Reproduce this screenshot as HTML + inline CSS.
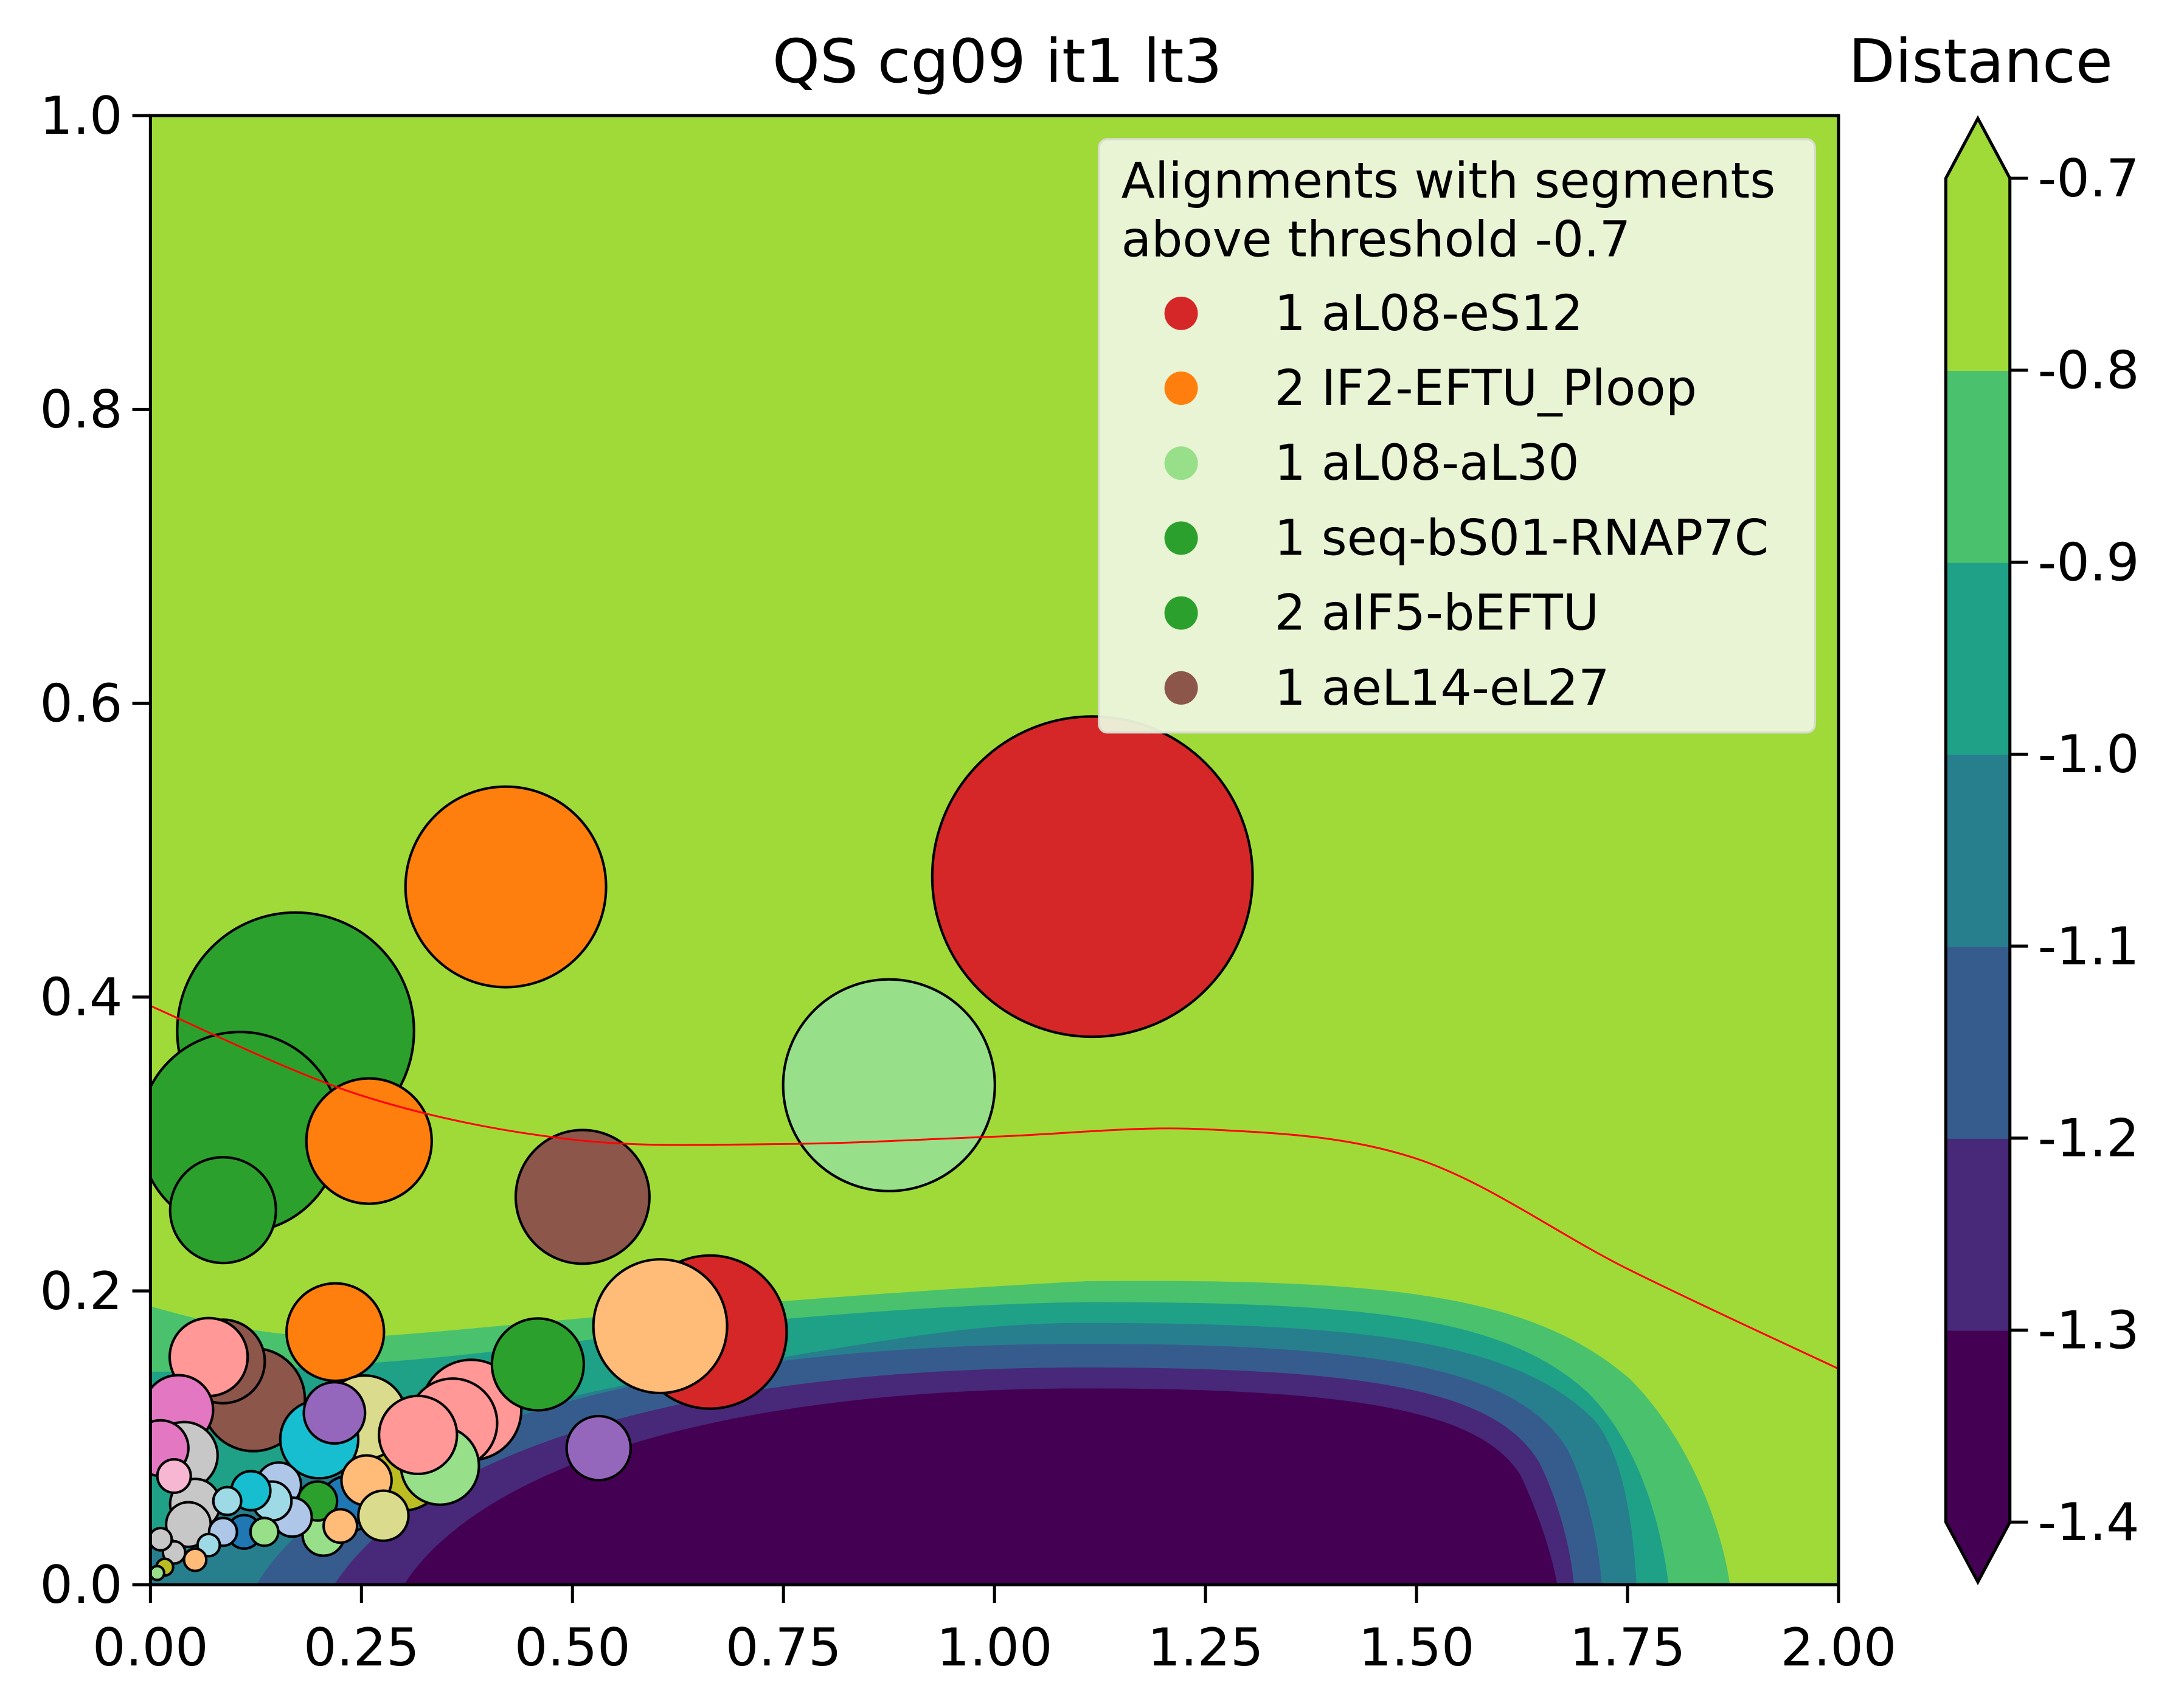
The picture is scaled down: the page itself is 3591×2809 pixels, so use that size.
<!DOCTYPE html>
<html><head><meta charset="utf-8"><style>
html,body{margin:0;padding:0;background:#fff}
svg{display:block}
text{font-family:"DejaVu Sans","Liberation Sans",sans-serif;fill:#000}
</style></head><body>
<svg id="fig" width="3591" height="2809" viewBox="0 0 1568 1226.5" preserveAspectRatio="none">
<rect x="0" y="0" width="1568" height="1226.5" fill="#fff"/>
<defs><clipPath id="ax"><rect x="108" y="83" width="1212" height="1055"/></clipPath></defs>
<g clip-path="url(#ax)">
<rect x="108" y="83" width="1212" height="1055" fill="#a0da39"/>
<path d="M108,938 C150,950 200,962 260,960 S500,935 780,920 C1000,918 1100,930 1170,990 C1210,1030 1235,1090 1242,1138 L108,1138 Z" fill="#4ac16d"/>
<path d="M108,985 C200,985 300,978 400,965 S650,937 780,935 C980,935 1080,945 1140,1000 C1175,1035 1192,1090 1198,1138 L108,1138 Z" fill="#1fa187"/>
<path d="M108,1110 C200,1060 350,1010 500,985 S700,950 780,950 C990,950 1090,965 1145,1020 C1165,1045 1172,1090 1175,1138 L108,1138 Z" fill="#277f8e"/>
<path d="M184,1138 C230,1060 400,965 780,965 C1000,965 1090,985 1125,1040 C1140,1070 1148,1110 1150,1138 Z" fill="#365c8d"/>
<path d="M240,1138 C290,1060 450,982 780,982 C990,982 1075,1000 1105,1050 C1120,1080 1128,1115 1130,1138 Z" fill="#482878"/>
<path d="M290,1138 C340,1060 500,997 780,997 C980,997 1065,1015 1092,1060 C1106,1090 1115,1120 1118,1138 Z" fill="#440154"/>
<g id="bubbles"></g>
<path id="fitline" fill="none" stroke="#ff0000" stroke-width="1.3"/>
</g>
<rect x="108" y="83" width="1212" height="1055" fill="none" stroke="#000" stroke-width="2.2"/>
<g id="xticks"></g>
<g id="yticks"></g>
<text x="716" y="59" font-size="43.4" text-anchor="middle">QS cg09 it1 lt3</text>

<g>
<rect x="789" y="100" width="514" height="426" rx="6" fill="#ecf6dc" fill-opacity="0.95" stroke="#d8dcd0" stroke-width="1.5"/>
<text x="805" y="142" font-size="35.3">Alignments with segments</text>
<text x="805" y="184" font-size="35.3">above threshold -0.7</text>
<g id="legendEntries"></g>
</g>

<g>
<g id="cbar"></g>
<path d="M1397,128 L1420,85 L1443,128 L1443,1093 L1420,1136 L1397,1093 Z" fill="none" stroke="#000" stroke-width="2.2"/>
<text x="1422" y="59" font-size="43.4" text-anchor="middle">Distance</text>
<g id="cticks"></g>
</g>
</svg>
<script>
const NS='http://www.w3.org/2000/svg';
// ---- data ----
const xTickLabels=['0.00','0.25','0.50','0.75','1.00','1.25','1.50','1.75','2.00'];
const xTickValues=[0,0.25,0.5,0.75,1.0,1.25,1.5,1.75,2.0];
const yTickLabels=['0.0','0.2','0.4','0.6','0.8','1.0'];
const yTickValues=[0,0.2,0.4,0.6,0.8,1.0];
const levelValues=[-1.4,-1.3,-1.2,-1.1,-1.0,-0.9,-0.8,-0.7];
const levelLabels=['-1.4','-1.3','-1.2','-1.1','-1.0','-0.9','-0.8','-0.7'];
const levelColors=['#440154','#482878','#365c8d','#277f8e','#1fa187','#4ac16d','#a0da39'];
const curveX=[0,0.25,0.5,0.75,1.0,1.25,1.5,1.75,2.0];
const curveY=[0.394,0.333,0.303,0.300,0.305,0.310,0.290,0.215,0.147];
const legendLabels=['1 aL08-eS12','2 IF2-EFTU_Ploop','1 aL08-aL30','1 seq-bS01-RNAP7C','2 aIF5-bEFTU','1 aeL14-eL27'];
const legendColors=['#d62728','#ff7f0e','#98df8a','#2ca02c','#2ca02c','#8c564b'];
const bubbleX=[1.116,0.875,0.421,0.172,0.106,0.259,0.086,0.512,0.663,0.604,0.459,0.219,0.531,0.380,0.358,0.343,0.300,0.254,0.200,0.256,0.218,0.086,0.122,0.069,0.033,0.040,0.012,0.053,0.045,0.276,0.234,0.198,0.205,0.168,0.144,0.119,0.091,0.135,0.111,0.086,0.069,0.053,0.028,0.017,0.008,0.012,0.028,0.317,0.152,0.225];
const bubbleY=[0.482,0.340,0.475,0.377,0.308,0.302,0.255,0.264,0.172,0.176,0.150,0.172,0.093,0.119,0.110,0.081,0.079,0.114,0.099,0.071,0.117,0.152,0.126,0.155,0.119,0.088,0.093,0.055,0.041,0.047,0.055,0.057,0.034,0.046,0.057,0.064,0.057,0.036,0.036,0.036,0.027,0.017,0.022,0.012,0.008,0.031,0.074,0.102,0.068,0.040];
const bubbleSize=[115,76,72,85,72,45,38,48,55,48,33,35,23,36,32,28,30,30,28,18,22,30,37,28,25,24,20,18,16,18,20,14,15,14,14,14,10,10,12,10,8,8,8,6,5,8,12,28,16,12];
const bubbleColor=['#d62728','#98df8a','#ff7f0e','#2ca02c','#2ca02c','#ff7f0e','#2ca02c','#8c564b','#d62728','#ffbb78','#2ca02c','#ff7f0e','#9467bd','#ff9896','#ff9896','#98df8a','#bcbd22','#dbdb8d','#17becf','#ffbb78','#9467bd','#8c564b','#8c564b','#ff9896','#e377c2','#c7c7c7','#e377c2','#c7c7c7','#c7c7c7','#dbdb8d','#1f77b4','#2ca02c','#98df8a','#aec7e8','#9edae5','#17becf','#9edae5','#98df8a','#1f77b4','#aec7e8','#9edae5','#ffbb78','#c7c7c7','#bcbd22','#98df8a','#c7c7c7','#f7b6d2','#ff9896','#aec7e8','#ffbb78'];
// ---- scales ----
const X=v=>108+v/2*1212;
const Y=v=>1138-v*1055;
const C=v=>1093-(v+1.4)/0.7*965;
const bg=document.getElementById('bubbles');
const order=bubbleX.map((_,i)=>i).sort((a,b)=>bubbleSize[b]-bubbleSize[a]);
order.forEach(i=>{
  const c=document.createElementNS(NS,'circle');
  c.setAttribute('cx',X(bubbleX[i]));c.setAttribute('cy',Y(bubbleY[i]));
  c.setAttribute('r',bubbleSize[i]);c.setAttribute('fill',bubbleColor[i]);
  c.setAttribute('stroke','#000');c.setAttribute('stroke-width','1.8');
  
  
  bg.appendChild(c);
});
(function(){
  const p=curveX.map((x,i)=>[X(x),Y(curveY[i])]);
  let d='M'+p[0][0]+','+p[0][1];
  for(let i=0;i<p.length-1;i++){
    const p0=p[Math.max(0,i-1)],p1=p[i],p2=p[i+1],p3=p[Math.min(p.length-1,i+2)];
    d+=' C'+(p1[0]+(p2[0]-p0[0])/6)+','+(p1[1]+(p2[1]-p0[1])/6)+' '+(p2[0]-(p3[0]-p1[0])/6)+','+(p2[1]-(p3[1]-p1[1])/6)+' '+p2[0]+','+p2[1];
  }
  document.getElementById('fitline').setAttribute('d',d);
})();
const xg=document.getElementById('xticks');
xTickValues.forEach((v,i)=>{
  const l=document.createElementNS(NS,'line');
  l.setAttribute('x1',X(v));l.setAttribute('x2',X(v));l.setAttribute('y1',1138);l.setAttribute('y2',1151);
  l.setAttribute('stroke','#000');l.setAttribute('stroke-width','2.2');
  
  
  xg.appendChild(l);
  const t=document.createElementNS(NS,'text');
  t.setAttribute('x',X(v));t.setAttribute('y',1196);t.setAttribute('font-size','37.4');t.setAttribute('text-anchor','middle');
  t.textContent=xTickLabels[i];
  
  
  xg.appendChild(t);
});
const yg=document.getElementById('yticks');
yTickValues.forEach((v,i)=>{
  const l=document.createElementNS(NS,'line');
  l.setAttribute('x1',95);l.setAttribute('x2',108);l.setAttribute('y1',Y(v));l.setAttribute('y2',Y(v));
  l.setAttribute('stroke','#000');l.setAttribute('stroke-width','2.2');
  
  
  yg.appendChild(l);
  const t=document.createElementNS(NS,'text');
  t.setAttribute('x',88);t.setAttribute('y',Y(v)+13);t.setAttribute('font-size','37.4');t.setAttribute('text-anchor','end');
  t.textContent=yTickLabels[i];
  
  
  yg.appendChild(t);
});
const cb=document.getElementById('cbar');
levelColors.forEach((col,i)=>{
  const r=document.createElementNS(NS,'rect');
  const y1=C(levelValues[i+1]),y0=C(levelValues[i]);
  r.setAttribute('x',1397);r.setAttribute('width',46);r.setAttribute('y',y1);r.setAttribute('height',y0-y1+0.5);
  r.setAttribute('fill',col);
  
  
  cb.appendChild(r);
});
const tri1=document.createElementNS(NS,'path');
tri1.setAttribute('d','M1397,128.5 L1420,85 L1443,128.5 Z');tri1.setAttribute('fill',levelColors[6]);


cb.appendChild(tri1);
const tri2=document.createElementNS(NS,'path');
tri2.setAttribute('d','M1397,1092.5 L1420,1136 L1443,1092.5 Z');tri2.setAttribute('fill',levelColors[0]);


cb.appendChild(tri2);
const ct=document.getElementById('cticks');
levelValues.forEach((v,i)=>{
  const l=document.createElementNS(NS,'line');
  l.setAttribute('x1',1443);l.setAttribute('x2',1456);l.setAttribute('y1',C(v));l.setAttribute('y2',C(v));
  l.setAttribute('stroke','#000');l.setAttribute('stroke-width','2.2');
  
  
  ct.appendChild(l);
  const t=document.createElementNS(NS,'text');
  t.setAttribute('x',1463);t.setAttribute('y',C(v)+13);t.setAttribute('font-size','37.4');
  t.textContent=levelLabels[i];
  
  
  ct.appendChild(t);
});
const lg=document.getElementById('legendEntries');
legendLabels.forEach((s,i)=>{
  const y=225+i*53.8;
  const c=document.createElementNS(NS,'circle');
  c.setAttribute('cx',848);c.setAttribute('cy',y);c.setAttribute('r',12);c.setAttribute('fill',legendColors[i]);
  
  
  lg.appendChild(c);
  const t=document.createElementNS(NS,'text');
  t.setAttribute('x',915);t.setAttribute('y',y+12);t.setAttribute('font-size','35.3');
  t.textContent=s;
  
  
  lg.appendChild(t);
});
</script>
</body></html>
